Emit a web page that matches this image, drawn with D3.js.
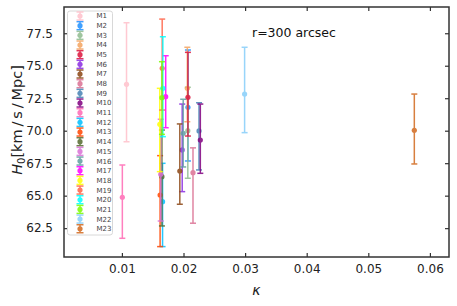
<!DOCTYPE html>
<html><head><meta charset="utf-8">
<script src="https://cdn.jsdelivr.net/npm/d3@7"></script>
<style>body{margin:0;background:#fff}text{font-family:"DejaVu Sans",sans-serif}</style>
</head><body><svg id="c" width="457" height="306"></svg>
<script>
const names = ["M1","M2","M3","M4","M5","M6","M7","M8","M9","M10","M11","M12","M13","M14","M15","M16","M17","M18","M19","M20","M21","M22","M23"];
const colors = ["#ffc0cb","#1e90ff","#8fbc8f","#f4a460","#dc143c","#8a2be2","#8b4513","#db7093","#4682b4","#800080","#ff69b4","#00bfff","#ff4500","#556b2f","#da70d6","#5f9ea0","#ff00ff","#ffff00","#ff6347","#00ffff","#7cfc00","#87cefa","#d2691e"];
const kappa = [0.01075,0.02072,0.0207,0.02062,0.02072,0.01979,0.0194,0.02154,0.02252,0.02273,0.01007,0.0166,0.0162,0.0165,0.0163,0.01995,0.01711,0.01615,0.01654,0.01665,0.0165,0.02992,0.05747];
const h0 =    [73.57,71.80,70.00,73.26,72.57,68.52,66.90,66.77,69.98,69.28,64.88,64.54,65.05,66.46,66.65,69.80,72.62,70.49,74.80,73.26,72.54,72.82,70.03];
const h0Low = [69.15,67.67,66.34,70.69,69.59,65.31,64.34,62.88,66.98,66.72,61.72,61.08,61.08,62.67,63.05,67.21,70.23,66.85,71.59,69.54,69.72,69.85,67.44];
const h0High= [78.31,76.21,73.34,76.42,76.03,72.05,70.52,68.68,72.15,72.05,67.36,67.49,68.08,70.05,70.88,72.42,75.77,73.26,78.59,77.23,75.31,76.42,72.82];
const xTicks = [0.01,0.02,0.03,0.04,0.05,0.06];
const yTicks = [62.5,65.0,67.5,70.0,72.5,75.0,77.5];
const annotation = "r=300 arcsec";

const svg = d3.select("#c");
const L=64,R=449,T=7,B=257;
const x = d3.scaleLinear().domain([0.0006,0.0631]).range([L,R]);
const y = d3.scaleLinear().domain([60.28,79.52]).range([B,T]);
const ink = "#333";

const gx = svg.append("g").attr("transform",`translate(0,${B})`)
  .call(d3.axisBottom(x).tickValues(xTicks).tickFormat(d3.format(".2f")).tickSizeInner(-4).tickSizeOuter(0).tickPadding(7));
const gxt = svg.append("g").attr("transform",`translate(0,${T})`)
  .call(d3.axisTop(x).tickValues(xTicks).tickFormat("").tickSizeInner(-4).tickSizeOuter(0));
const gy = svg.append("g").attr("transform",`translate(${L},0)`)
  .call(d3.axisLeft(y).tickValues(yTicks).tickFormat(d3.format(".1f")).tickSizeInner(-4).tickSizeOuter(0).tickPadding(11));
const gyr = svg.append("g").attr("transform",`translate(${R},0)`)
  .call(d3.axisRight(y).tickValues(yTicks).tickFormat("").tickSizeInner(-4).tickSizeOuter(0));
[gx,gxt,gy,gyr].forEach(g=>{
  g.select(".domain").remove();
  g.selectAll(".tick line").attr("stroke",ink).attr("stroke-width",1.2);
  g.selectAll(".tick text").attr("fill","#222").style("font-size","12px").style("font-family","DejaVu Sans");
});

const data = names.map((n,i)=>({n,c:colors[i],k:kappa[i],v:h0[i],lo:h0Low[i],hi:h0High[i]}));
const cap=3;
const g = svg.append("g");
data.forEach(d=>{
  const s = g.append("g").attr("opacity",0.85);
  const px=x(d.k);
  s.append("line").attr("x1",px).attr("x2",px).attr("y1",y(d.lo)).attr("y2",y(d.hi)).attr("stroke",d.c).attr("stroke-width",1.5);
  [d.lo,d.hi].forEach(v=>s.append("line").attr("x1",px-cap).attr("x2",px+cap).attr("y1",y(v)).attr("y2",y(v)).attr("stroke",d.c).attr("stroke-width",1.5));
  s.append("circle").attr("cx",px).attr("cy",y(d.v)).attr("r",2.6).attr("fill",d.c);
});

svg.append("rect").attr("x",L).attr("y",T).attr("width",R-L).attr("height",B-T)
  .attr("fill","none").attr("stroke",ink).attr("stroke-width",1.5);

const lg = svg.append("g");
lg.append("rect").attr("x",67.5).attr("y",11).attr("width",45).attr("height",224).attr("rx",2.5)
  .attr("fill","#fff").attr("fill-opacity",0.8).attr("stroke","#d8d8d8").attr("stroke-width",1);
data.forEach((d,i)=>{
  const cy = 16 + i*9.67, cx=80;
  const e = lg.append("g").attr("opacity",0.85);
  e.append("line").attr("x1",cx).attr("x2",cx).attr("y1",cy-4).attr("y2",cy+4).attr("stroke",d.c).attr("stroke-width",1.5);
  [cy-4,cy+4].forEach(yy=>e.append("line").attr("x1",cx-3.5).attr("x2",cx+3.5).attr("y1",yy).attr("y2",yy).attr("stroke",d.c).attr("stroke-width",1.5));
  e.append("circle").attr("cx",cx).attr("cy",cy).attr("r",2.6).attr("fill",d.c);
  lg.append("text").attr("x",96.5).attr("y",cy).attr("dy","0.35em").attr("fill","#444").style("font-size","7px").text(d.n);
});

svg.append("text").attr("x",252).attr("y",37).attr("fill","#111").style("font-size","12.5px").text(annotation);

svg.append("text").attr("x",(L+R)/2).attr("y",295).attr("text-anchor","middle").attr("fill","#222")
  .style("font-size","14px").style("font-style","italic").text("κ");
const yl = svg.append("text").attr("transform",`translate(22,${(T+B)/2 - 12}) rotate(-90)`).attr("text-anchor","middle").attr("fill","#222").style("font-size","14.5px");
yl.append("tspan").style("font-style","italic").text("H");
yl.append("tspan").attr("dy",3).style("font-size","10px").text("0");
yl.append("tspan").attr("dy",-3).text("[km\u2009/\u2009s\u2009/\u2009Mpc]");
</script></body></html>
